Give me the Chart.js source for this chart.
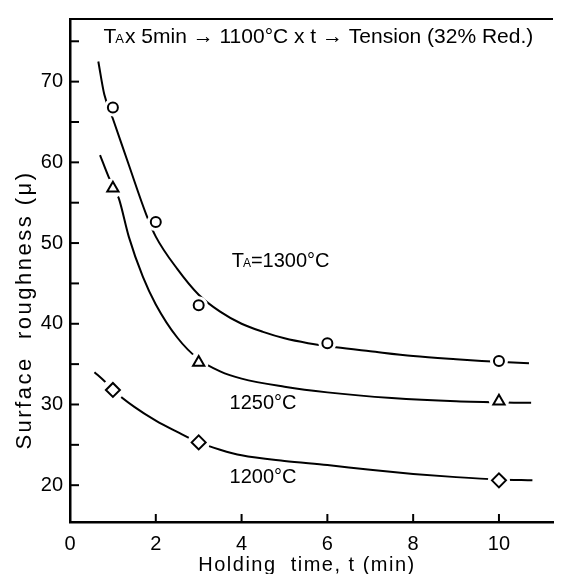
<!DOCTYPE html>
<html>
<head>
<meta charset="utf-8">
<script src="https://cdn.jsdelivr.net/npm/chart.js@4.4.1/dist/chart.umd.min.js"></script>
<style>
  html, body { margin: 0; padding: 0; background: #fff; }
</style>
</head>
<body>
<canvas id="chart" width="564" height="574"></canvas>
<script>
// measured points, holding time (min) vs surface roughness (micron)
const t1300 = [1, 2, 3, 6, 10];
const r1300 = [66.8, 52.6, 42.3, 37.6, 35.4];
const t1250 = [1, 3, 10];
const r1250 = [56.8, 35.2, 30.4];
const t1200 = [1, 3, 10];
const r1200 = [31.8, 25.3, 20.6];

// hand drawn curves, read along the lines of the figure
const curve1300x = [0.66, 0.8, 1.0, 1.37, 1.78, 2.0, 2.5, 3.0, 3.5, 4.0, 4.5, 5.0, 5.55, 6.2, 7.0, 8.0, 9.0, 9.6, 10.7];
const curve1300y = [72.5, 68.4, 65.4, 59.7, 53.5, 50.8, 46.8, 43.6, 41.5, 40.0, 39.0, 38.2, 37.6, 37.1, 36.6, 36.0, 35.6, 35.4, 35.1];
const curve1250x = [0.7, 0.9, 1.14, 1.37, 1.7, 2.0, 2.5, 3.0, 3.5, 4.0, 5.0, 6.0, 7.5, 9.0, 10.75];
const curve1250y = [60.9, 58.2, 55.5, 50.8, 45.8, 42.4, 38.3, 35.6, 34.1, 33.2, 32.2, 31.5, 30.8, 30.4, 30.2];
const curve1200x = [0.57, 0.8, 1.0, 1.5, 2.0, 2.5, 3.0, 3.5, 4.0, 5.0, 6.0, 7.0, 8.0, 9.0, 10.0, 10.78];
const curve1200y = [34.0, 32.9, 31.8, 29.7, 28.0, 26.6, 25.3, 24.4, 23.7, 23.0, 22.5, 21.9, 21.4, 21.0, 20.7, 20.6];

const xTicks = [0, 2, 4, 6, 8, 10];
const yTicks = [20, 25, 30, 35, 40, 45, 50, 55, 60, 65, 70, 75];
const yLabels = [20, 30, 40, 50, 60, 70];

const FONT = "'Liberation Sans', Arial, sans-serif";

const pts = (xs, ys) => xs.map((x, i) => ({ x: x, y: ys[i] }));

function curve(xs, ys) {
  return {
    data: pts(xs, ys),
    showLine: true,
    borderColor: "#000",
    borderWidth: 2,
    pointRadius: 0,
    cubicInterpolationMode: "monotone",
    order: 3
  };
}

function halo(xs, ys, r) {
  return {
    data: pts(xs, ys),
    pointStyle: "circle",
    pointRadius: r,
    pointBackgroundColor: "#fff",
    pointBorderWidth: 0,
    pointBorderColor: "#fff",
    order: 2
  };
}

function marks(xs, ys, style, r) {
  return {
    data: pts(xs, ys),
    pointStyle: style,
    pointRadius: r,
    pointBackgroundColor: "#fff",
    pointBorderColor: "#000",
    pointBorderWidth: 2,
    order: 1
  };
}

// frame top line, inward ticks, axis titles, in-plot labels
const figureDecor = {
  id: "figureDecor",
  afterDraw(chart) {
    const { ctx, chartArea, scales } = chart;
    const x = scales.x, y = scales.y;
    ctx.save();
    ctx.strokeStyle = "#000";
    ctx.fillStyle = "#000";

    ctx.lineWidth = 2;
    ctx.beginPath();
    ctx.moveTo(chartArea.left - 1, chartArea.top);
    ctx.lineTo(chartArea.right, chartArea.top);
    ctx.stroke();

    xTicks.forEach(v => {
      const px = x.getPixelForValue(v);
      ctx.beginPath();
      ctx.moveTo(px, chartArea.bottom);
      ctx.lineTo(px, chartArea.bottom - 8);
      ctx.stroke();
    });
    yTicks.forEach(v => {
      const py = y.getPixelForValue(v);
      ctx.beginPath();
      ctx.moveTo(chartArea.left, py);
      ctx.lineTo(chartArea.left + 9, py);
      ctx.stroke();
    });

    ctx.textBaseline = "middle";
    ctx.textAlign = "center";

    // axis titles
    ctx.save();
    ctx.font = "20px " + FONT;
    ctx.letterSpacing = "1.5px";
    ctx.fillText("Holding  time, t (min)", 307, 565);
    ctx.translate(25, 310);
    ctx.rotate(-Math.PI / 2);
    ctx.font = "22px " + FONT;
    ctx.letterSpacing = "2.5px";
    ctx.fillText("Surface  roughness (\u03bc)", 0, 0);
    ctx.restore();

    ctx.textAlign = "left";

    // T with small A
    function tA(px, py, size) {
      ctx.font = size + "px " + FONT;
      ctx.fillText("T", px, py);
      let w = ctx.measureText("T").width;
      ctx.font = Math.round(size * 0.62) + "px " + FONT;
      ctx.fillText("A", px + w - 1, py + size * 0.12);
      return w - 1 + ctx.measureText("A").width;
    }

    // header line
    let hx = x.getPixelForValue(0.78), hy = y.getPixelForValue(75.5);
    hx += tA(hx, hy, 21);
    ctx.font = "21px " + FONT;
    ctx.fillText("x 5min \u2192 1100\u00b0C x t \u2192 Tension (32% Red.)", hx + 1, hy);

    // curve labels
    let ax = x.getPixelForValue(3.77), ay = y.getPixelForValue(47.7);
    ax += tA(ax, ay, 20);
    ctx.font = "20px " + FONT;
    ctx.fillText("=1300\u00b0C", ax, ay);
    ctx.fillText("1250\u00b0C", x.getPixelForValue(3.72), y.getPixelForValue(30.1));
    ctx.fillText("1200\u00b0C", x.getPixelForValue(3.72), y.getPixelForValue(20.9));
    ctx.restore();
  }
};

new Chart(document.getElementById("chart"), {
  type: "scatter",
  data: {
    datasets: [
      curve(curve1300x, curve1300y),
      curve(curve1250x, curve1250y),
      curve(curve1200x, curve1200y),
      halo(t1300, r1300, 9),
      halo(t1250, r1250, 10),
      halo(t1200, r1200, 11),
      marks(t1300, r1300, "circle", 5),
      marks(t1250, r1250, "triangle", 6.5),
      marks(t1200, r1200, "rectRot", 7)
    ]
  },
  options: {
    responsive: false,
    animation: false,
    devicePixelRatio: 1,
    layout: { padding: { top: 16, right: 1, left: 0, bottom: 0 } },
    plugins: { legend: { display: false }, tooltip: { enabled: false } },
    scales: {
      x: {
        type: "linear",
        min: 0,
        max: 11.26,
        afterBuildTicks: s => { s.ticks = xTicks.map(v => ({ value: v })); },
        afterFit: s => { s.height = 52; },
        grid: { drawOnChartArea: false, drawTicks: false },
        border: { display: true, color: "#000", width: 2.5 },
        ticks: { color: "#000", padding: 10, font: { family: FONT, size: 20 } }
      },
      y: {
        type: "linear",
        min: 15.44,
        max: 77.76,
        afterBuildTicks: s => { s.ticks = yTicks.map(v => ({ value: v })); },
        afterFit: s => { s.width = 70; },
        grid: { drawOnChartArea: false, drawTicks: false },
        border: { display: true, color: "#000", width: 2.5 },
        ticks: {
          color: "#000",
          padding: 7,
          font: { family: FONT, size: 20 },
          callback: v => (yLabels.includes(v) ? String(v) : "")
        }
      }
    }
  },
  plugins: [figureDecor]
});
</script>
</body>
</html>
